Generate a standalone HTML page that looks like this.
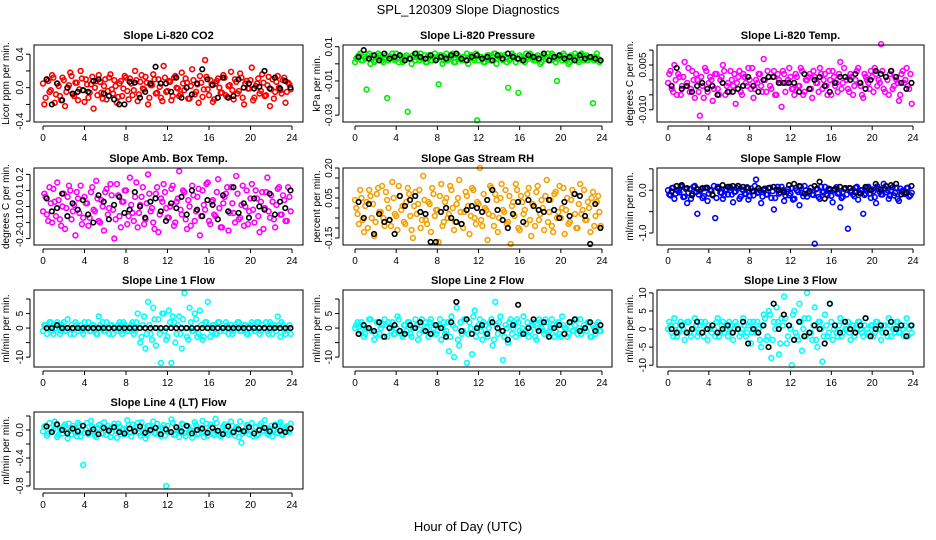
<!DOCTYPE html>
<html><head><meta charset="utf-8"><style>
html,body{margin:0;padding:0;background:#fff;}
svg{display:block;font-family:"Liberation Sans",Arial,sans-serif;}
</style></head><body>
<svg id="chart" width="936" height="540" viewBox="0 0 936 540" xmlns="http://www.w3.org/2000/svg">
<rect width="936" height="540" fill="#fff"/>
<text x="468" y="14" text-anchor="middle" font-size="13">SPL_120309  Slope Diagnostics</text>
<text x="468" y="531" text-anchor="middle" font-size="13">Hour of Day (UTC)</text>
</svg>
<script>
// ---- data (values in panel units * scale) ----
const xTicks = [0,4,8,12,16,20,24];
const co2Red = [-20,10,-5,15,-18,5,-10,12,-22,0,18,-8,6,-15,20,-3,10,-12,4,-25,8,15,-6,2,-14,12,-2,9,-18,5,-10,14,-4,11,-9,20,-16,7,-1,13,-20,3,16,-7,10,-12,26,-5,8,-15,12,0,-10,18,-3,6,-13,22,-8,4,14,-11,33,-2,9,-17,5,11,-6,15,-9,2,19,-14,7,-4,12,-20,8,-1,24,-12,5,-7,16,-10,3,-22,10,-5,14,-3,9,-18,6,-2];
const co2Red2 = [5,-12,8,-3,12,-8,2,-15,9,-5,3,14,-10,6,-2,11,-17,4,-6,13,0,-9,7,-13,10,-4,16,-7,2,-11,8,-1,12,-14,5,-3,9,-8,15,-2,6,-12,3,10,-6,1,-16,12,-4,7,-10,14,-1,-8,5,11,-13,2,9,-5,-18,6,-2,13,-9,4,-14,8,0,-6,12,-11,3,-3,10,-7,17,-12,5,-1,9,-15,2,11,-4,6,-9,13,-2,-13,7,0,-7,12,-5,4];
const co2Black = [10,-20,5,-15,0,-7,-5,-3,-5,8,10,-7,-10,-14,-20,-20,7,6,-12,-5,5,25,5,5,-5,12,-12,0,-8,5,22,10,3,-12,12,-12,-10,10,0,5,-1,1,20,-1,12,-1,8,0];
const presGreen = [3,5,2,4,-15,6,3,1,4,5,2,3,-20,4,6,2,3,5,1,4,-28,3,5,2,4,6,3,1,5,2,4,3,-12,5,2,6,3,4,1,5,3,2,4,6,3,5,2,-33,4,3,1,5,2,4,6,3,5,2,4,-14,3,5,1,-17,4,2,6,3,5,2,4,3,1,5,4,2,6,3,-10,4,2,5,3,1,4,6,2,3,5,4,2,3,-23,4,3,2];
const presGreen2 = [1,4,6,2,3,5,0,4,2,6,3,1,5,2,4,3,6,1,4,2,5,3,0,4,6,2,3,5,1,4,2,6,3,5,0,4,2,3,6,1,5,3,4,2,0,5,3,6,2,4,1,3,5,2,6,0,4,3,5,1,2,6,4,3,5,2,1,4,6,3,2,5,0,4,3,6,2,5,1,3,4,6,2,0,5,3,4,1,6,2,5,3,4,2,6,1];
const presBlack = [4,8,3,5,2,6,3,4,5,2,3,6,4,3,5,2,4,3,5,6,3,2,4,5,3,4,2,5,3,6,4,3,2,5,4,3,6,2,4,5,3,4,2,5,3,4,3,2];
const tempMag = [2,-3,5,-5,1,-2,6,-1,-4,3,-6,0,-12,-2,4,-4,1,-7,2,-3,0,5,-5,-1,3,-2,-8,1,-4,2,-1,4,-3,-6,0,2,-2,7,-4,1,-3,3,-5,0,-9,2,-1,4,-3,-5,1,-2,3,-4,0,2,-6,1,-1,4,-3,2,-5,0,3,-2,-4,6,-1,1,-3,2,-5,0,4,-2,-6,1,-1,3,-4,2,0,12,-3,1,-5,3,-2,0,-7,2,-1,4,-3,-8];
const tempMag2 = [-1,3,-4,0,2,-5,1,-2,4,-3,0,2,-4,1,-6,3,-1,0,-3,2,-5,1,3,-2,-4,0,2,-1,3,-5,1,-2,0,4,-3,-1,2,-4,0,3,-2,1,-5,2,-1,3,-4,0,1,-3,2,-2,4,-5,0,1,-3,3,-1,-4,2,0,-2,3,-5,1,-1,2,-3,4,0,-4,1,-2,3,-1,-5,2,0,-3,1,4,-2,-1,3,-4,0,2,-3,1,-1,-5,3,0,-2,2];
const tempBlack = [-2,4,-3,-2,-4,-2,-1,-3,-2,-5,-1,-4,-4,-3,-2,1,-2,-4,0,1,1,-1,-1,-1,-1,-4,2,-3,0,1,-2,-4,-1,1,1,0,2,-1,-3,0,3,2,1,3,1,-1,-3,-1];
const ambMag = [8,-5,12,-10,3,15,-8,0,-14,6,10,-3,-18,5,13,-7,2,-12,9,-2,16,-9,4,-15,11,-1,7,-20,14,-6,3,10,-11,18,-4,6,-13,1,12,-8,20,-3,-10,8,-16,5,14,-1,-7,11,-12,3,22,-5,9,-14,0,13,-9,6,-18,10,-2,15,-11,4,-6,17,-13,2,8,-15,12,-4,19,-8,1,-12,10,-3,14,-10,5,-16,9,-1,18,-7,3,-13,11,-5,7,-9,12,-3];
const ambMag2 = [-3,6,-9,2,11,-6,4,-12,8,-1,13,-8,1,9,-4,-11,6,2,-7,12,-3,5,-10,0,9,-5,14,-2,-8,7,-13,3,10,-6,1,-9,15,-4,6,-11,2,8,-1,-14,12,-5,3,9,-7,0,13,-10,5,-2,10,-8,4,-12,7,-3,11,-6,1,14,-9,3,-5,9,-1,-13,6,12,-4,2,-10,8,-7,13,0,-11,5,-2,10,-6,3,-14,9,-3,7,-8,1,12,-5,4,-9,6];
const ambBlack = [5,-3,-1,8,-6,2,-2,4,-5,-10,7,3,-8,1,6,-4,-2,9,0,-7,3,5,-3,-9,2,-1,6,-5,10,-2,-6,4,1,-8,7,-3,12,-4,2,-7,5,0,-2,8,-5,3,-1,10];
const rhOrange = [0,-8,5,-12,3,9,-5,-14,7,-2,11,-9,4,-6,13,-3,-11,6,1,-8,10,-4,-15,8,2,-10,16,-6,3,-12,7,-1,-17,12,-7,5,-3,9,-11,2,14,-8,-2,6,-13,10,-5,3,20,-9,0,-16,11,-4,7,-12,5,-1,9,-7,-18,3,12,-10,6,-3,-8,10,-14,1,8,-6,4,-11,14,-2,-9,7,-5,11,0,-13,5,-7,9,-3,-10,12,-1,-6,3,-12,8,-4,6,-9];
const rhOrange2 = [4,-3,9,-6,1,-10,6,2,-7,10,-2,-5,8,0,-9,5,-4,11,-1,-7,3,7,-11,1,-3,9,-6,4,-8,2,10,-4,-1,6,-9,3,-5,11,0,-7,5,-2,-10,8,1,-4,9,-8,2,-6,7,-1,-3,10,-9,4,-5,12,-2,-8,6,1,-4,9,-11,3,-1,7,-6,2,-9,11,-3,0,6,-7,4,-12,8,-2,-5,10,-1,-8,4,7,-10,2,-3,9,-6,0,5,-9,3,-2];
const rhBlack = [3,-5,2,-13,-3,-7,-6,-13,6,1,4,6,-2,-3,-17,-17,-2,0,-5,-7,-8,-1,1,0,-2,4,9,-1,-6,-10,-3,3,-7,4,1,-1,-2,4,-1,-5,3,-4,7,6,-4,-18,2,-10];
const flowBlue = [-10,5,-20,0,-5,8,-15,-30,3,-8,10,-55,-2,-18,5,-25,0,-12,-65,8,-5,-20,2,-10,6,-28,-3,10,-15,0,-8,-22,4,-12,25,-5,-30,0,-10,5,-18,-45,2,-8,8,-25,-3,-12,5,-20,0,-35,-6,10,-15,-2,-10,-125,4,-20,-5,8,-12,0,-28,3,-8,-40,-15,5,-90,-3,-10,6,-22,0,-55,-8,8,-18,-2,-30,3,-10,15,-5,-20,0,-12,6,-25,-3,-8,5,-15,-6];
const flowBlue2 = [0,-12,6,-8,-2,10,-16,3,-6,-20,8,-4,-10,2,-14,6,-8,-1,10,-18,4,-6,-12,0,8,-10,-4,5,-20,2,-9,7,-14,-3,10,-6,0,-15,4,-10,6,-2,-18,8,-5,0,-12,3,-8,-22,5,-4,9,-14,0,-7,6,-11,2,-16,8,-3,-9,4,-13,0,7,-6,-18,3,-10,5,-2,-14,8,-5,0,-11,6,-8,2,-16,9,-4,-10,3,0,-13,7,-6,-20,4,-1,-9,6,-12];
const flowBlack = [-3,10,12,5,-12,3,5,6,-10,5,12,8,10,10,8,5,-2,5,2,5,8,0,-5,12,15,10,-8,-2,10,20,-20,3,3,8,5,5,-5,-8,8,0,15,2,10,12,15,-10,-6,10];
const line1Cyan = [1,-2,2,-1,0,2,-2,1,-1,3,-2,0,2,-1,1,-2,0,2,-1,1,-2,4,0,-1,2,-2,1,0,-1,2,-2,1,-1,0,2,-1,5,-5,1,-7,9,-2,7,-6,3,-12,5,-4,6,-12,2,-2,4,-7,12,-3,7,-1,5,-3,6,-4,2,9,-3,1,-2,2,-1,0,2,-2,1,-1,0,2,-1,1,-2,0,2,-1,2,-2,1,0,-1,2,-2,1,4,-3,1,-2,0,-2];
const line1Cyan2 = [-1,1,0,2,-2,0,1,-1,2,-1,0,1,-2,1,0,-1,2,0,-1,1,0,-2,1,2,-1,0,1,-2,0,1,-1,2,0,-1,1,-2,2,0,-3,4,-2,1,-4,3,0,-2,5,-1,-3,2,4,-5,1,-2,3,0,-4,2,-1,3,-2,1,-3,2,0,-1,1,-2,2,0,-1,1,0,-2,1,2,-1,0,1,-2,1,0,-1,2,-1,0,2,-2,1,0,-1,1,2,-1,0,1];
const line1Black = [0,0,1,0,0,0,0,0,0,0,0,0,0,0,0,0,0,0,0,0,0,0,0,0,0,0,0,0,0,0,0,0,0,0,0,0,0,0,0,0,0,0,0,0,0,0,0,0];
const line2Cyan = [1,-2,2,-3,0,3,-1,-4,2,-2,1,3,-3,0,2,-2,4,-1,-3,1,2,-2,0,3,-4,1,-1,2,-3,3,0,-2,1,-4,2,-1,-8,4,-10,7,-6,-2,3,-12,2,-9,6,-1,3,-4,1,-3,2,-6,9,-2,4,-11,1,-5,3,0,-3,2,-2,4,-1,-3,1,2,-4,3,0,-2,2,-1,3,-3,1,-2,4,0,-3,2,-1,1,-2,3,-1,0,2,-3,1,-2,2,-1];
const line2Cyan2 = [0,2,-1,1,-2,0,3,-1,-2,2,0,-3,1,2,-1,-2,0,3,-2,1,-1,2,-3,0,1,-2,3,-1,0,2,-2,1,-1,3,0,-2,2,-3,1,0,-4,2,-1,3,-2,0,4,-3,1,-1,2,-2,0,3,-4,1,2,-1,-3,0,2,-2,1,3,-1,0,-2,2,-1,1,-3,0,2,-1,3,-2,0,1,-1,2,-3,1,0,-2,2,-1,3,0,-2,1,-1,2,-3,0,1,-1];
const line2Black = [-2,1,0,-1,2,-3,0,1,-1,-2,1,0,2,-1,-2,1,0,-3,2,9,-1,3,-2,0,1,-2,2,0,-1,-4,1,8,-2,0,3,-1,2,-3,0,1,-2,2,3,-1,0,2,-1,1];
const line3Cyan = [2,-1,3,-2,0,1,-3,2,-1,0,3,-2,1,-1,2,-3,0,1,-2,3,-1,2,0,-2,1,-3,2,0,-1,3,-2,1,-4,2,-1,0,-5,4,-3,5,-8,2,6,-7,3,9,-4,1,-10,5,-2,7,-6,3,10,-1,-3,6,-5,2,-9,4,-2,7,-3,1,-2,3,-1,0,2,-3,1,-1,2,0,-2,3,-1,1,-2,2,0,-3,1,-1,3,-2,0,2,-1,1,-2,3,0,-1];
const line3Cyan2 = [0,1,-2,1,-1,2,0,-1,2,-2,0,1,-1,2,-2,0,1,-1,0,2,-2,1,-1,0,2,-1,0,1,-2,0,1,-1,2,-1,0,2,-3,1,3,-2,4,-3,0,2,-4,1,3,-2,0,4,-1,-3,2,0,-2,3,-1,1,-3,2,0,-2,1,-1,2,0,-1,1,-2,2,0,-1,1,-2,0,2,-1,1,0,-2,1,-1,2,0,-1,1,-2,1,0,-1,2,-1,0,1,-2,1];
const line3Black = [0,-1,1,-1,0,2,-1,0,1,-1,0,1,-1,0,2,-4,0,-1,1,-5,7,0,4,1,-3,2,-2,-1,1,0,-4,7,1,-1,2,0,-1,1,3,-2,0,1,-1,2,0,1,-2,1];
const line4Cyan = [5,-8,10,-3,12,-10,2,-5,8,-12,3,6,-4,10,-9,-50,1,-6,13,-2,-10,7,-5,11,-7,2,-3,9,-11,5,0,-6,14,-4,8,-1,10,-8,4,-12,6,-2,12,-5,1,-9,7,-80,-3,15,-7,3,-10,9,-4,6,-1,-11,11,-6,2,13,-3,-8,8,-5,16,-2,-9,5,0,-7,12,-4,4,-10,-18,-1,7,-6,10,-3,-8,6,-2,14,-5,1,-9,8,-4,11,-7,3,-1,9];
const line4Cyan2 = [-2,6,-5,3,0,8,-7,1,5,-3,9,-6,2,-9,7,0,-4,10,-2,5,-8,3,8,-5,0,6,-10,4,-1,9,-6,2,-3,7,-9,1,5,-4,11,-2,-7,6,0,-5,9,-1,3,-8,6,-3,10,-6,1,-4,8,-9,5,0,-2,7,-5,3,-10,9,-1,4,-7,10,-3,-6,8,1,-4,6,-8,2,12,-5,0,7,-2,-9,4,-6,9,-1,3,-7,6,0,-4,8,-6,2,5,-3];
const line4Black = [5,-3,8,0,-5,2,-2,6,-4,1,-6,3,-1,4,-3,-5,2,-2,5,-4,0,3,-6,1,-3,4,-2,6,-5,0,2,-4,3,-1,-6,5,-3,1,-2,4,-5,0,3,-2,6,-1,-3,2];
// tick values and printed labels per panel
const co2Ticks=[-0.4,-0.2,0,0.2,0.4], co2Labels=["-0.4","","0.0","","0.4"];
const presTicks=[-0.03,-0.02,-0.01,0,0.01], presLabels=["-0.03","","-0.01","","0.01"];
const tempTicks=[-0.010,-0.005,0,0.005,0.010], tempLabels=["-0.010","","","0.005",""];
const ambTicks=[-0.2,-0.1,0,0.1,0.2], ambLabels=["-0.2","-0.1","0.0","0.1","0.2"];
const rhTicks=[-0.15,-0.1,-0.05,0,0.05,0.1,0.15,0.2], rhLabels=["-0.15","","","","0.05","","","0.20"];
const flowTicks=[-1,-0.5,0,0.5], flowLabels=["-1.0","","0.0",""];
const l1Ticks=[-10,-5,0,5,10], l1Labels=["-10","","0","5",""];
const l3Ticks=[-10,-5,0,5,10], l3Labels=["-10","-5","0","5","10"];
const l4Ticks=[-0.8,-0.6,-0.4,-0.2,0,0.2], l4Labels=["-0.8","","-0.4","","0.0",""];

const NS="http://www.w3.org/2000/svg";
const svg=document.getElementById('chart');
const cols=[{l:34,r:303,x0:43,x24:292,lab:9},{l:343,r:612,x0:355,x24:602,lab:320},{l:657,r:924,x0:668,x24:913,lab:633}];
const rows=[{t:45,b:122},{t:168,b:245},{t:290,b:367},{t:412,b:489}];
const panels=[
 {name:"co2",title:"Slope Li-820 CO2",yl:"Licor ppm per min.",c:0,r:0,dom:[-0.41,0.51],sc:0.01,col:"#ff0000",a:co2Red,a2:co2Red2,b:co2Black,t:co2Ticks,tl:co2Labels},
 {name:"pressure",title:"Slope Li-820 Pressure",yl:"kPa per min.",c:1,r:0,dom:[-0.034,0.011],sc:0.001,col:"#00ee00",a:presGreen,a2:presGreen2,b:presBlack,t:presTicks,tl:presLabels},
 {name:"li820-temp",title:"Slope Li-820 Temp.",yl:"degrees C per min.",c:2,r:0,dom:[-0.0141,0.0117],sc:0.001,col:"#ff00ff",a:tempMag,a2:tempMag2,b:tempBlack,t:tempTicks,tl:tempLabels},
 {name:"amb-box-temp",title:"Slope Amb. Box Temp.",yl:"degrees C per min.",c:0,r:1,dom:[-0.24,0.24],sc:0.01,col:"#ff00ff",a:ambMag,a2:ambMag2,b:ambBlack,t:ambTicks,tl:ambLabels},
 {name:"gas-stream-rh",title:"Slope Gas Stream RH",yl:"percent per min.",c:1,r:1,dom:[-0.185,0.2],sc:0.01,col:"#f5a000",a:rhOrange,a2:rhOrange2,b:rhBlack,t:rhTicks,tl:rhLabels},
 {name:"sample-flow",title:"Slope Sample Flow",yl:"ml/min per min.",c:2,r:1,dom:[-1.28,0.52],sc:0.01,col:"#0000ff",a:flowBlue,a2:flowBlue2,b:flowBlack,t:flowTicks,tl:flowLabels},
 {name:"line1-flow",title:"Slope Line 1 Flow",yl:"ml/min per min.",c:0,r:2,dom:[-13.4,13.1],sc:1,col:"#00ffff",a:line1Cyan,a2:line1Cyan2,b:line1Black,t:l1Ticks,tl:l1Labels},
 {name:"line2-flow",title:"Slope Line 2 Flow",yl:"ml/min per min.",c:1,r:2,dom:[-13.4,13.1],sc:1,col:"#00ffff",a:line2Cyan,a2:line2Cyan2,b:line2Black,t:l1Ticks,tl:l1Labels},
 {name:"line3-flow",title:"Slope Line 3 Flow",yl:"ml/min per min.",c:2,r:2,dom:[-10.5,10.8],sc:1,col:"#00ffff",a:line3Cyan,a2:line3Cyan2,b:line3Black,t:l3Ticks,tl:l3Labels},
 {name:"line4-flow",title:"Slope Line 4 (LT) Flow",yl:"ml/min per min.",c:0,r:3,dom:[-0.843,0.257],sc:0.01,col:"#00ffff",a:line4Cyan,a2:line4Cyan2,b:line4Black,t:l4Ticks,tl:l4Labels}
];
function mk(tag,attrs,parent){const e=document.createElementNS(NS,tag);for(const k in attrs)e.setAttribute(k,attrs[k]);(parent||svg).appendChild(e);return e;}
panels.forEach(p=>{
 const C=cols[p.c],R=rows[p.r];
 const g=mk('g',{});
 
 
 const xs=v=>C.x0+(v/24)*(C.x24-C.x0);
 const ys=v=>R.b-(v-p.dom[0])/(p.dom[1]-p.dom[0])*(R.b-R.t);
 const tt=mk('text',{x:(C.l+C.r)/2,y:R.t-6,'text-anchor':'middle','font-size':'11','font-weight':'bold'},g);
 tt.textContent=p.title;
 
 
 const yl=mk('text',{transform:`translate(${C.lab},${(R.t+R.b)/2}) rotate(-90)`,'text-anchor':'middle','font-size':'10'},g);
 yl.textContent=p.yl;
 
 
 // colored points (two sample sets offset in time)
 [[p.a,0.5],[p.a2,0.0]].forEach(([arr,off])=>{
  const n=arr.length;
  arr.forEach((v,i)=>{
   const c=mk('circle',{cx:xs((i+off)*24/n),cy:ys(v*p.sc),r:2.4,fill:'none',stroke:p.col,'stroke-width':1.6},g);
   
   
  });
 });
 const m=p.b.length;
 p.b.forEach((v,i)=>{
  const c=mk('circle',{cx:xs((i+0.7)*24/m),cy:ys(v*p.sc),r:2.3,fill:'none',stroke:'#000','stroke-width':1.6},g);
  
  
 });
 const box=mk('rect',{x:C.l,y:R.t,width:C.r-C.l,height:R.b-R.t,fill:'none',stroke:'#000','stroke-width':1},g);
 
 
 // x axis
 mk('line',{x1:xs(0),x2:xs(24),y1:R.b+4,y2:R.b+4,stroke:'#000'},g);
 xTicks.forEach(v=>{
  mk('line',{x1:xs(v),x2:xs(v),y1:R.b+4,y2:R.b+8,stroke:'#000'},g);
  const t=mk('text',{x:xs(v),y:R.b+19,'text-anchor':'middle','font-size':'10'},g);
  t.textContent=v;
  
  
 });
 // y axis
 const vis=p.t.filter(v=>ys(v)>=R.t-1&&ys(v)<=R.b+1);
 mk('line',{x1:C.l-4,x2:C.l-4,y1:ys(Math.min(...vis)),y2:ys(Math.max(...vis)),stroke:'#000'},g);
 p.t.forEach((v,i)=>{
  const y=ys(v); if(y<R.t-1||y>R.b+1)return;
  mk('line',{x1:C.l-8,x2:C.l-4,y1:y,y2:y,stroke:'#000'},g);
  if(p.tl[i]){
   const t=mk('text',{transform:`translate(${C.l-11},${y}) rotate(-90)`,'text-anchor':'middle','font-size':'10'},g);
   t.textContent=p.tl[i];
   
   
  }
 });
});
</script>
</body></html>
